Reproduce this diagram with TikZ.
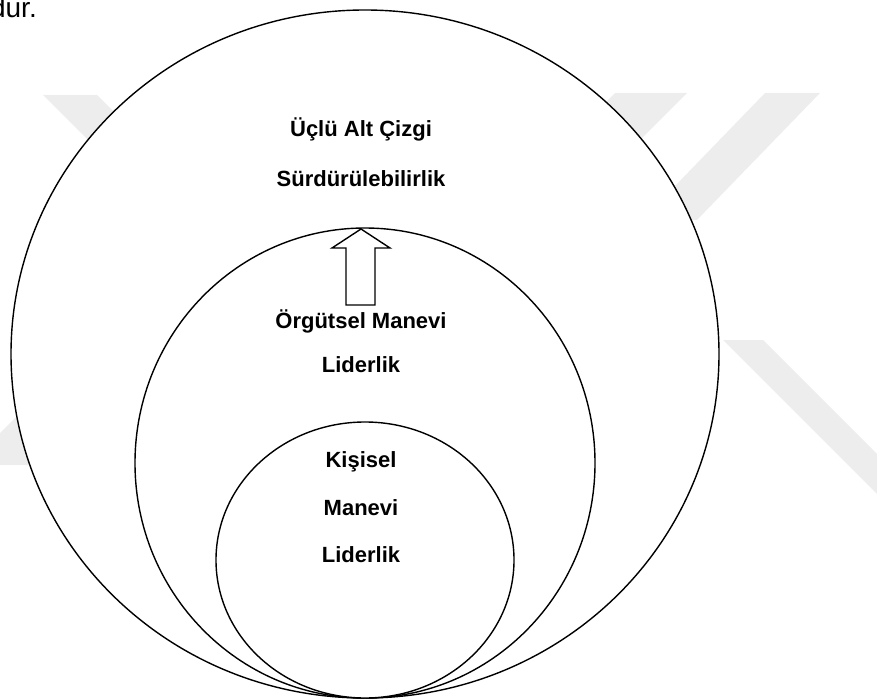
\documentclass[tikz,border=0pt]{standalone}
\usepackage{fontspec}
\setmainfont{Liberation Sans}
\usetikzlibrary{shapes.geometric}
\begin{document}
\begin{tikzpicture}[x=1pt,y=-1pt,
  ring/.style={ellipse,draw=black,line width=1.4pt,fill=white,inner sep=0pt,outer sep=0pt},
  arrowshape/.style={draw=black,line width=1.4pt,fill=white,line join=miter},
  lbl/.style={font=\fontsize{22}{26}\selectfont\bfseries,anchor=base,inner sep=0pt},
  wm/.style={fill=black!7,draw=none}]
\useasboundingbox (0,0) rectangle (877,700);
% faint watermark
\fill[wm] (43,95) -- (97,95) -- (260,258) -- (206,258) -- cycle;
\fill[wm] (-32,465) -- (28,465) -- (160,333) -- (100,333) -- cycle;
\fill[wm] (615,93) -- (687,93) -- (560,220) -- (488,220) -- cycle;
\fill[wm] (765,93) -- (820,93) -- (697,220) -- (642,220) -- cycle;
\fill[wm] (723,340) -- (763,340) -- (943,520) -- (903,520) -- cycle;
% cut-off text of the page
\node[font=\fontsize{28}{32}\selectfont,anchor=base east,inner sep=0pt] (dur) at (37,18) {dur.};
% rings
\node[ring,minimum width=708pt,minimum height=688pt] (outer) at (365,354) {};
\node[ring,minimum width=460pt,minimum height=470pt] (middle) at (365,463) {};
\node[ring,minimum width=298pt,minimum height=276pt] (inner) at (365,560) {};
% block arrow
\draw[arrowshape] (361,229) -- (390,248) -- (375,248) -- (375,305) -- (346,305) -- (346,248) -- (332,248) -- cycle;
% labels
\node[lbl] (t1) at (361,137) {Üçlü Alt Çizgi};
\node[lbl] (t2) at (361,187) {Sürdürülebilirlik};
\node[lbl] (t3) at (361,328) {Örgütsel Manevi};
\node[lbl] (t4) at (361,372) {Liderlik};
\node[lbl] (t5) at (361,467) {Kişisel};
\node[lbl] (t6) at (361,515) {Manevi};
\node[lbl] (t7) at (361,562) {Liderlik};
\end{tikzpicture}
\end{document}
